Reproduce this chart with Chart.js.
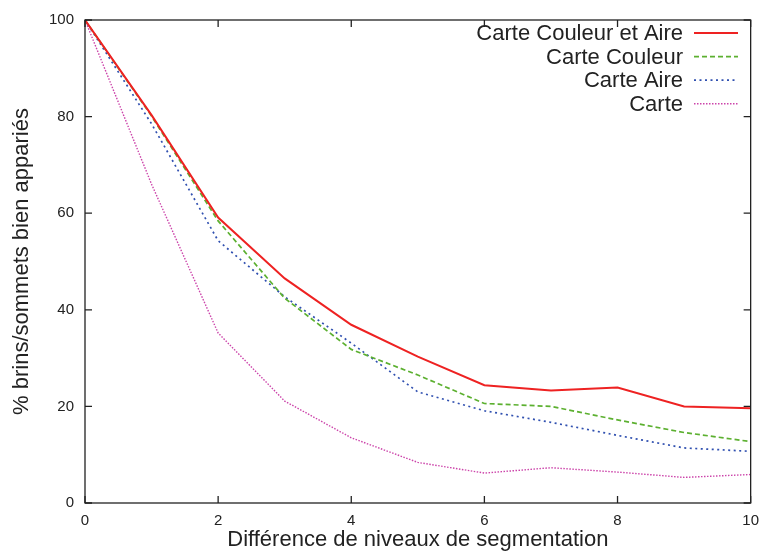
<!DOCTYPE html>
<html><head><meta charset="utf-8">
<script src="https://cdn.jsdelivr.net/npm/chart.js@4/dist/chart.umd.min.js"></script>
<style>html,body{margin:0;padding:0;background:#fff}#wrap{width:768px;height:555px}</style>
</head><body><div id="wrap"><canvas id="c" width="768" height="555"></canvas></div>
<script>
const levels = [0,1,2,3,4,5,6,7,8,9,10];
const seriesNames = ["Carte Couleur et Aire","Carte Couleur","Carte Aire","Carte"];
const couleurEtAire = [100,80.3,59.1,46.5,36.9,30.3,24.4,23.3,23.9,20.0,19.6];
const couleur = [100,80.1,58.4,42.4,31.8,26.5,20.6,20.0,17.2,14.6,12.7];
const aire = [100,78.5,54.3,42.7,33.1,23.0,19.1,16.7,14.0,11.4,10.7];
const carte = [100,66.0,35.2,21.1,13.5,8.4,6.2,7.3,6.4,5.3,5.9];
const xTicks = [0,2,4,6,8,10];
const yTicks = [0,20,40,60,80,100];
const colors = ["#ee2222","#5cb030","#3050b0","#cc44aa"];
const dashes = [[],[5,3],[2,3.5],[1.5,1.5]];
const widths = [2,1.7,1.7,1.4];
const values = [couleurEtAire,couleur,aire,carte];
const FONT = "'Liberation Sans', Arial, sans-serif";
const TXT = "#222";

const frame = {
  id:'frame',
  afterDraw(chart){
    const {ctx, chartArea:a, scales:{x,y}} = chart;
    ctx.save();
    ctx.strokeStyle = TXT; ctx.lineWidth = 1.3; ctx.setLineDash([]);
    ctx.strokeRect(a.left, a.top, a.right-a.left, a.bottom-a.top);
    const L = 7;
    ctx.beginPath();
    xTicks.forEach(v=>{const px=x.getPixelForValue(v);
      ctx.moveTo(px,a.bottom);ctx.lineTo(px,a.bottom-L);
      ctx.moveTo(px,a.top);ctx.lineTo(px,a.top+L);});
    yTicks.forEach(v=>{const py=y.getPixelForValue(v);
      ctx.moveTo(a.left,py);ctx.lineTo(a.left+L,py);
      ctx.moveTo(a.right,py);ctx.lineTo(a.right-L,py);});
    ctx.stroke();
    ctx.font = "22px " + FONT;
    ctx.textAlign = "right"; ctx.textBaseline = "middle";
    chart.data.datasets.forEach((ds,i)=>{
      const yy = 33 + i*23.6;
      ctx.fillStyle = TXT;
      ctx.fillText(ds.label, 683, yy+1);
      ctx.strokeStyle = ds.borderColor; ctx.lineWidth = ds.borderWidth;
      ctx.setLineDash(ds.borderDash || []);
      ctx.beginPath(); ctx.moveTo(694, yy); ctx.lineTo(738, yy); ctx.stroke();
    });
    ctx.restore();
  }
};

new Chart(document.getElementById('c'), {
  type:'line',
  data:{
    datasets: seriesNames.map((n,i)=>({
      label:n,
      data: levels.map((lv,k)=>({x:lv,y:values[i][k]})),
      borderColor:colors[i], backgroundColor:colors[i],
      borderDash:dashes[i], borderWidth:widths[i], pointRadius:0, tension:0, fill:false
    }))
  },
  options:{
    responsive:false, animation:false,
    layout:{padding:{top:16,right:13,left:0,bottom:0}},
    plugins:{legend:{display:false}, tooltip:{enabled:false}},
    scales:{
      x:{type:'linear',min:0,max:10,
        afterBuildTicks(s){s.ticks = xTicks.map(v=>({value:v}));},
        afterFit(s){s.height = 52;},
        grid:{display:false, drawTicks:false}, border:{display:false},
        ticks:{color:TXT,font:{family:FONT,size:15},padding:9,maxRotation:0},
        title:{display:true,text:"Différence de niveaux de segmentation",color:TXT,font:{family:FONT,size:22},padding:{top:0,bottom:2}}
      },
      y:{min:0,max:100,
        afterBuildTicks(s){s.ticks = yTicks.map(v=>({value:v}));},
        afterFit(s){s.width = 85;},
        grid:{display:false, drawTicks:false}, border:{display:false},
        ticks:{color:TXT,font:{family:FONT,size:15},padding:11},
        title:{display:true,text:"% brins/sommets bien appariés",color:TXT,font:{family:FONT,size:22},padding:{top:9,bottom:0}}
      }
    }
  },
  plugins:[frame]
});
</script></body></html>
